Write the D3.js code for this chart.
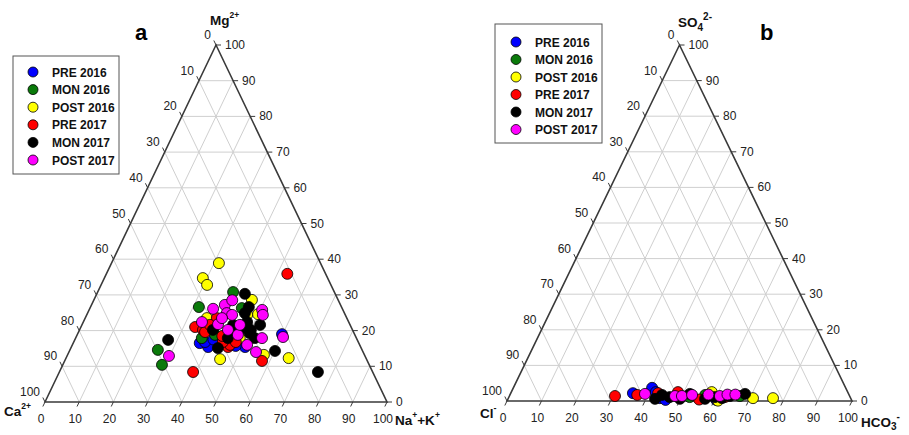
<!DOCTYPE html>
<html>
<head>
<meta charset="utf-8">
<script src="https://cdn.jsdelivr.net/npm/d3@7"></script>
<style>
    body { margin: 0; background: #fff; }
    svg { font-family: Arial, "Liberation Sans", sans-serif; }
    .tick-label { font-size: 12px; fill: #222; }
    .legend text { font-size: 12px; font-weight: bold; fill: #111; }
    .axis-title { font-size: 13.5px; font-weight: bold; fill: #111; }
    .panel-letter { font-size: 22px; font-weight: bold; fill: #000; }
</style>
</head>
<body>
<svg id="chart" width="909" height="435"></svg>
<script>
(function () {
    const seriesNames = ["PRE 2016", "MON 2016", "POST 2016", "PRE 2017", "MON 2017", "POST 2017"];
    const seriesColours = ["#0000ff", "#0a7a0a", "#ffff00", "#ff0000", "#000000", "#ff00ff"];

    // cations: [Ca2+, Mg2+, Na+ + K+] in %
    const cationPre2016 = [[46.5, 16.5, 37.0], [44.6, 15.4, 40.0], [44.8, 16.8, 38.4], [33.8, 15.4, 50.8], [36.4, 15.7, 47.9], [21.2, 19.0, 59.8], [42.0, 17.5, 40.5]];
    const cationMon2016 = [[29.6, 30.8, 39.6], [41.7, 26.6, 31.7], [45.2, 17.9, 36.9], [59.7, 14.6, 25.7], [60.6, 10.4, 29.0], [29.3, 26.3, 44.4], [36.6, 16.8, 46.6], [40.9, 18.8, 40.3], [35.5, 18.0, 46.5]];
    const cationPost2016 = [[29.7, 38.9, 31.4], [36.5, 34.7, 28.8], [36.2, 32.8, 31.0], [42.8, 12.0, 45.2], [25.2, 28.6, 46.2], [25.4, 24.6, 50.0], [28.7, 24.4, 46.9], [34.1, 17.9, 48.0], [29.4, 13.2, 57.4], [22.6, 12.3, 65.1], [40.9, 23.5, 35.6]];
    const cationPre2017 = [[11.2, 35.9, 52.9], [45.6, 21.0, 33.4], [43.7, 20.2, 36.1], [38.8, 15.4, 45.8], [52.5, 8.4, 39.1], [30.8, 11.5, 57.7], [37.9, 16.0, 46.1], [38.0, 23.5, 38.5], [43.4, 19.6, 37.0], [39.6, 16.8, 43.6], [41.0, 21.6, 37.4], [38.9, 18.5, 42.6], [35.8, 16.8, 47.4]];
    const cationMon2017 = [[55.3, 17.4, 27.3], [40.8, 20.2, 39.0], [41.9, 15.1, 43.0], [16.0, 8.4, 75.6], [25.6, 14.3, 60.1], [26.4, 30.3, 43.3], [27.1, 26.6, 46.3], [29.1, 24.9, 46.0], [31.8, 20.7, 47.5], [30.5, 19.3, 50.2], [29.7, 20.2, 50.1], [26.3, 21.6, 52.1], [29.7, 17.9, 52.4], [29.7, 22.4, 47.9], [34.2, 21.6, 44.2], [37.6, 17.9, 44.5]];
    const cationPost2017 = [[33.8, 27.2, 39.0], [37.8, 26.1, 36.1], [34.4, 24.9, 40.7], [42.9, 22.4, 34.7], [38.5, 21.8, 39.7], [36.4, 20.2, 43.4], [57.3, 12.9, 29.8], [33.1, 24.4, 42.5], [34.2, 18.8, 47.0], [32.9, 16.0, 51.1], [31.3, 14.0, 54.7], [27.6, 17.9, 54.5], [23.6, 25.8, 50.6], [24.1, 24.4, 51.5], [21.3, 18.2, 60.5], [32.2, 21.6, 46.2], [36.5, 23.5, 40.0], [31.0, 28.5, 40.5]];

    // anions: [Cl-, SO4 2-, HCO3-] in %
    const anionPre2016 = [[62.4, 2.2, 35.4], [56.1, 3.7, 40.2], [55.6, 2.5, 41.9], [55.3, 0.8, 43.9], [53.9, 0.3, 45.8], [39.2, 0.3, 60.5]];
    const anionMon2016 = [[46.5, 1.1, 52.4], [31.8, 1.4, 66.8], [41.7, 1.7, 56.6]];
    const anionPost2016 = [[28.3, 0.8, 70.9], [22.5, 0.8, 76.7], [39.4, 2.5, 58.1], [38.8, 0.1, 61.1]];
    const anionPre2017 = [[68.0, 1.4, 30.6], [61.4, 1.7, 36.9], [55.1, 2.2, 42.7], [49.2, 2.5, 48.3], [36.3, 1.1, 62.6], [44.1, 0.4, 55.5]];
    const anionMon2017 = [[52.3, 1.1, 46.6], [49.6, 0.6, 49.8], [46.0, 2.0, 52.0], [42.3, 0.6, 57.1], [34.7, 1.4, 63.9], [30.0, 2.0, 68.0], [56.8, 0.6, 42.6], [39.2, 1.1, 59.7], [54.2, 1.7, 44.1], [37.3, 0.8, 61.9]];
    const anionPost2017 = [[59.0, 2.0, 39.0], [50.6, 1.4, 48.0], [48.6, 1.4, 50.0], [45.5, 1.7, 52.8], [40.7, 1.8, 57.5], [37.6, 1.4, 61.0], [35.2, 1.8, 63.0], [32.9, 1.8, 65.3]];

    const tickValues = d3.range(0, 101, 10);

    const svg = d3.select("#chart");

    drawTernary({
        left: 45, right: 387, base: 402, top: 45,
        series: [cationPre2016, cationMon2016, cationPost2016, cationPre2017, cationMon2017, cationPost2017]
    });
    drawTernary({
        left: 507, right: 852, base: 401, top: 45,
        series: [anionPre2016, anionMon2016, anionPost2016, anionPre2017, anionMon2017, anionPost2017]
    });

    // panel letters
    svg.append("text").attr("class", "panel-letter").attr("x", 135).attr("y", 40).text("a");
    svg.append("text").attr("class", "panel-letter").attr("x", 760).attr("y", 40).text("b");

    // axis titles panel a
    let t = svg.append("text").attr("class", "axis-title").attr("x", 210).attr("y", 25);
    t.append("tspan").text("Mg");
    t.append("tspan").attr("dy", -7).style("font-size", "8.5px").text("2+");

    t = svg.append("text").attr("class", "axis-title").attr("x", 4).attr("y", 416);
    t.append("tspan").text("Ca");
    t.append("tspan").attr("dy", -7).style("font-size", "8.5px").text("2+");

    t = svg.append("text").attr("class", "axis-title").attr("x", 395).attr("y", 425);
    t.append("tspan").text("Na");
    t.append("tspan").attr("dy", -7).style("font-size", "8.5px").text("+");
    t.append("tspan").attr("dy", 7).text("+K");
    t.append("tspan").attr("dy", -7).style("font-size", "8.5px").text("+");

    // axis titles panel b
    t = svg.append("text").attr("class", "axis-title").attr("x", 678).attr("y", 27);
    t.append("tspan").text("SO");
    t.append("tspan").attr("dy", 4).style("font-size", "10px").text("4");
    t.append("tspan").attr("dy", -11).style("font-size", "10px").text("2-");

    t = svg.append("text").attr("class", "axis-title").attr("x", 480).attr("y", 418);
    t.append("tspan").text("Cl");
    t.append("tspan").attr("dy", -7).style("font-size", "9px").text("-");

    t = svg.append("text").attr("class", "axis-title").attr("x", 861).attr("y", 427);
    t.append("tspan").text("HCO");
    t.append("tspan").attr("dy", 3).style("font-size", "10px").text("3");
    t.append("tspan").attr("dy", -10).style("font-size", "10px").text("-");

    // legends
    drawLegend(13, 56, 106, 118, 33, 72, 52, 17.6);
    drawLegend(495, 24, 107, 119, 516, 42, 535, 17.5);

    function drawTernary(cfg) {
        const x = d3.scaleLinear().domain([0, 100]).range([cfg.left, cfg.right]);
        const y = d3.scaleLinear().domain([0, 100]).range([cfg.base, cfg.top]);

        // p = [left corner comp, apex comp, right corner comp]
        function point(p) {
            const s = p[0] + p[1] + p[2];
            const a = p[1] / s * 100, r = p[2] / s * 100;
            return [x(r + a / 2), y(a)];
        }

        const g = svg.append("g");
        const line = d3.line();

        // grid
        const grid = g.append("g").attr("stroke", "#cfcfcf").attr("stroke-width", 1).attr("fill", "none");
        d3.range(10, 100, 10).forEach(function (v) {
            grid.append("path").attr("d", line([point([100 - v, v, 0]), point([0, v, 100 - v])]));
            grid.append("path").attr("d", line([point([v, 100 - v, 0]), point([v, 0, 100 - v])]));
            grid.append("path").attr("d", line([point([0, 100 - v, v]), point([100 - v, 0, v])]));
        });

        // outline
        const apex = point([0, 100, 0]), lc = point([100, 0, 0]), rc = point([0, 0, 100]);
        g.append("path")
            .attr("d", line([lc, apex, rc]) + "Z")
            .attr("fill", "none")
            .attr("stroke", "#3a3a3a")
            .attr("stroke-width", 1.6);

        function unit(a, b) {
            const dx = b[0] - a[0], dy = b[1] - a[1], l = Math.hypot(dx, dy);
            return [dx / l, dy / l];
        }
        const downLeft = unit(apex, lc);
        const upLeft = unit(rc, apex);
        const tickLen = 5;
        const ticks = g.append("g").attr("stroke", "#3a3a3a").attr("stroke-width", 1);

        tickValues.forEach(function (v) {
            // bottom axis (right corner component)
            let p = point([100 - v, 0, v]);
            ticks.append("path").attr("d", line([p, [p[0] + downLeft[0] * tickLen, p[1] + downLeft[1] * tickLen]]));
            g.append("text").attr("class", "tick-label")
                .attr("x", p[0] - 4).attr("y", p[1] + 21)
                .attr("text-anchor", "middle").text(v);

            // left side (left corner component)
            p = point([v, 100 - v, 0]);
            ticks.append("path").attr("d", line([p, [p[0] + upLeft[0] * tickLen, p[1] + upLeft[1] * tickLen]]));
            g.append("text").attr("class", "tick-label")
                .attr("x", p[0] - 5).attr("y", p[1] - 6)
                .attr("text-anchor", "end").text(v);

            // right side (apex component)
            p = point([0, v, 100 - v]);
            ticks.append("path").attr("d", line([p, [p[0] + tickLen, p[1]]]));
            g.append("text").attr("class", "tick-label")
                .attr("x", p[0] + 9).attr("y", p[1] + 4)
                .attr("text-anchor", "start").text(v);
        });

        // points
        cfg.series.forEach(function (data, i) {
            g.append("g").selectAll("circle")
                .data(data)
                .enter().append("circle")
                .attr("cx", function (d) { return point(d)[0]; })
                .attr("cy", function (d) { return point(d)[1]; })
                .attr("r", 5.5)
                .attr("fill", seriesColours[i])
                .attr("stroke", "#000")
                .attr("stroke-width", 0.8);
        });
    }

    function drawLegend(bx, by, bw, bh, dotX, firstY, textX, step) {
        const lg = svg.append("g").attr("class", "legend");
        lg.append("rect")
            .attr("x", bx).attr("y", by).attr("width", bw).attr("height", bh)
            .attr("fill", "#fff").attr("stroke", "#555").attr("stroke-width", 1);

        lg.selectAll("circle")
            .data(seriesNames)
            .enter().append("circle")
            .attr("cx", dotX)
            .attr("cy", function (d, i) { return firstY + i * step; })
            .attr("r", 5)
            .attr("fill", function (d, i) { return seriesColours[i]; })
            .attr("stroke", "#000")
            .attr("stroke-width", 0.8);

        lg.selectAll("text")
            .data(seriesNames)
            .enter().append("text")
            .attr("x", textX)
            .attr("y", function (d, i) { return firstY + i * step + 4.5; })
            .text(function (d) { return d; });
    }
}());
</script>
</body>
</html>
